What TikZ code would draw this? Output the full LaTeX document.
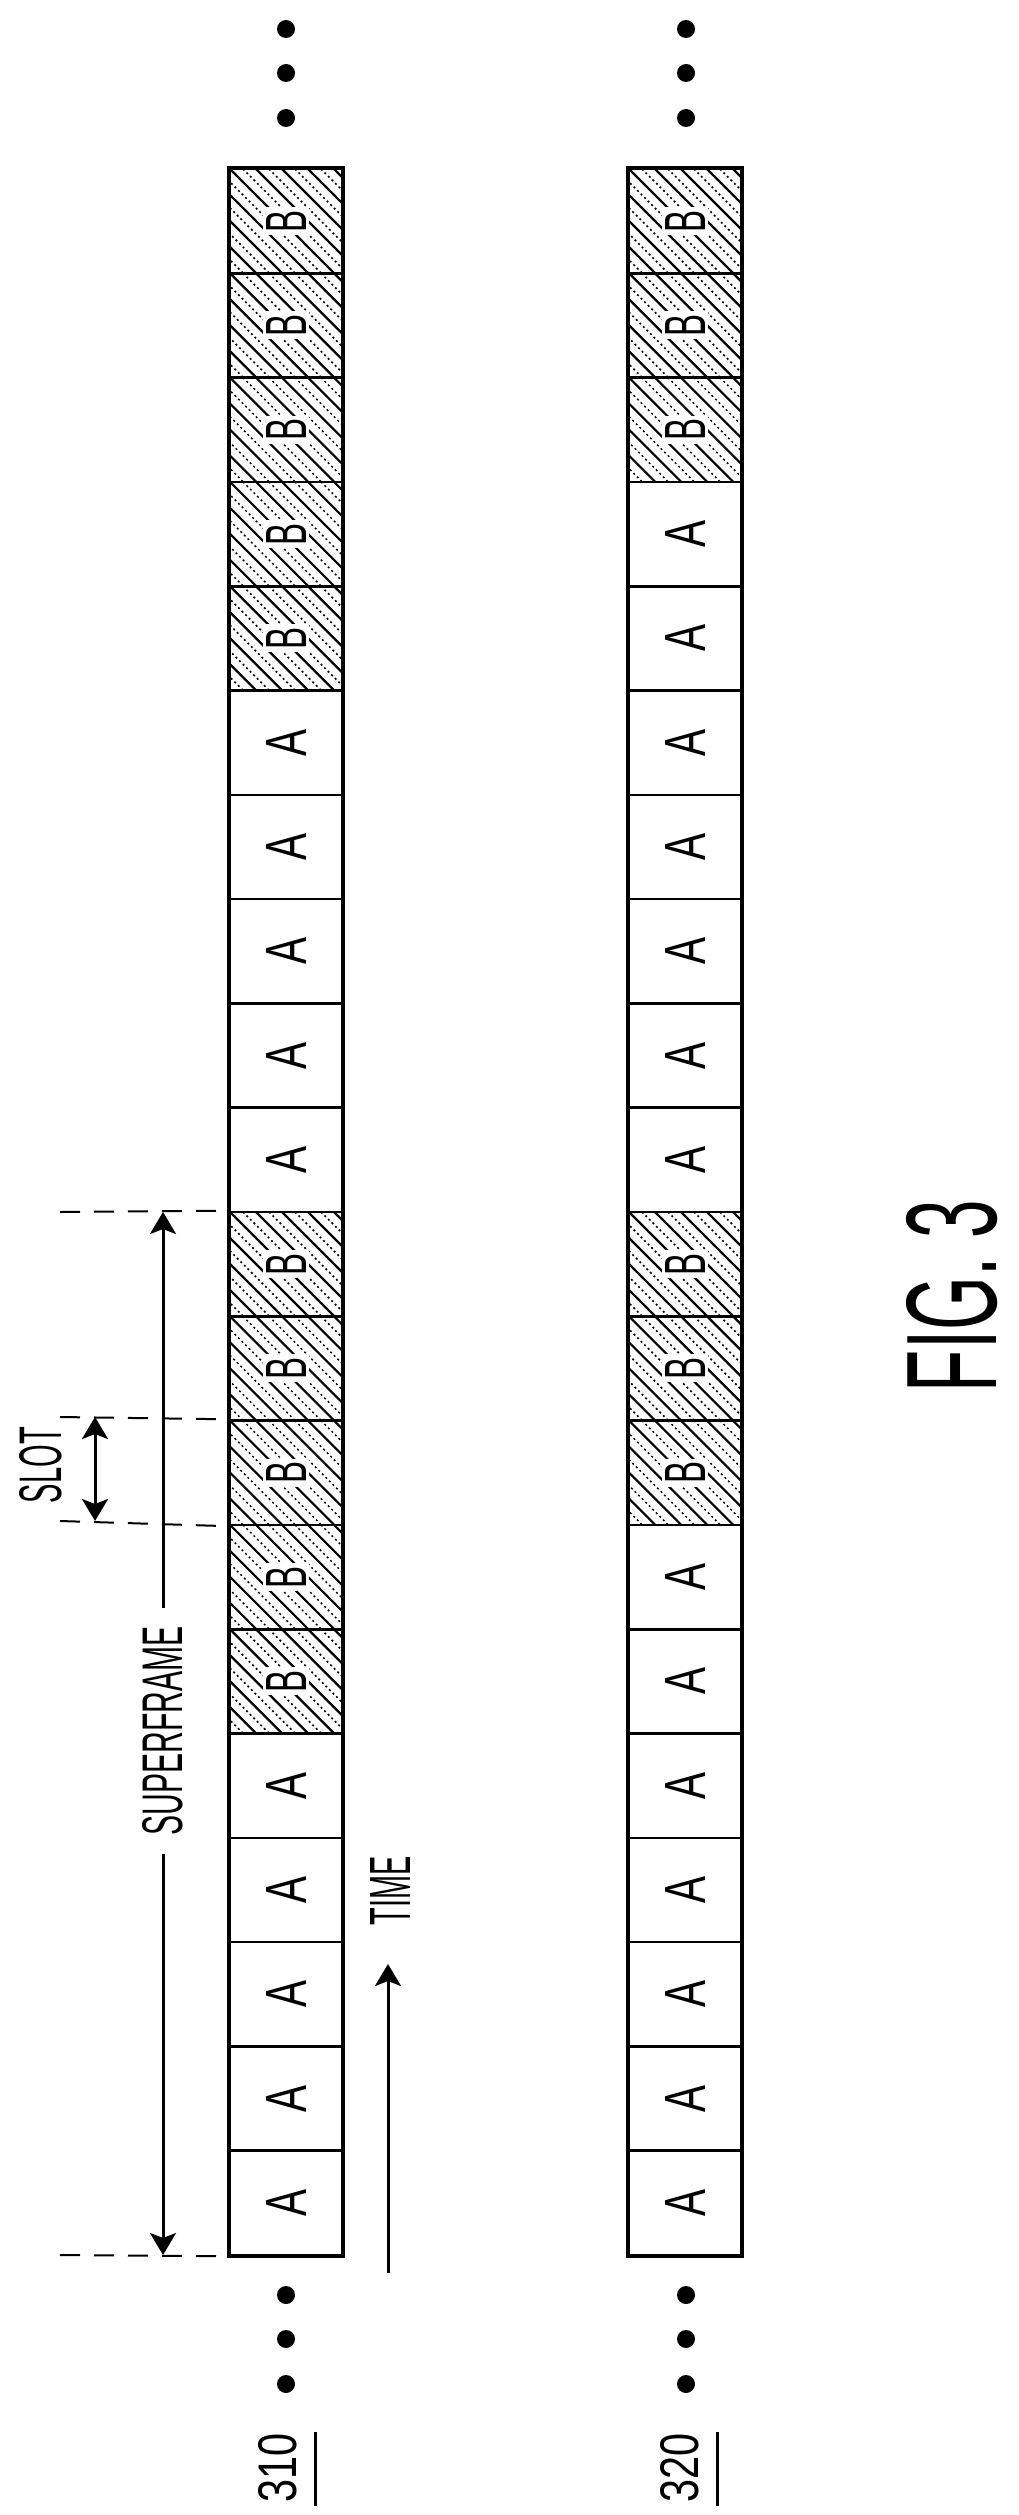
\documentclass[tikz,border=0pt]{standalone}
\usepackage{fontspec}
\setmainfont{Liberation Sans}
\usetikzlibrary{arrows.meta}
\newcommand{\txt}[3]{\resizebox{#1pt}{#2pt}{#3}}
\begin{document}
\begin{tikzpicture}[x=1pt,y=-1pt,
 slot/.style={draw,line width=2.6pt,minimum width=112pt,minimum height=104.3pt,inner sep=0pt},
 lbl/.style={rotate=90,inner sep=0pt},
 blbl/.style={rotate=90,inner sep=3pt,fill=white},
 hs/.style={line width=2.2pt},
 hd/.style={line width=1.5pt,dash pattern=on 2pt off 3pt},
 dim/.style={line width=2pt,dash pattern=on 20pt off 14pt},
 arr/.style={line width=3pt,-{Stealth[length=22pt,width=26pt,inset=5pt]}},
 darr/.style={line width=3pt,{Stealth[length=22pt,width=26pt,inset=5pt]}-{Stealth[length=22pt,width=26pt,inset=5pt]}},
 dot/.style={circle,fill,inner sep=0pt,minimum size=18pt},
 outer/.style={line width=4pt}]
\useasboundingbox (0,0) rectangle (1018,2515);

% column 310
\foreach \i in {0,...,19}{
  \pgfmathsetmacro\ty{169+104.3*\i}
  \pgfmathtruncatemacro\isb{or(\i<5,and(\i>9,\i<15))}
  \ifnum\isb=1
    \begin{scope}
      \clip (230,\ty) rectangle (342,\ty+104.3);
      \foreach \k in {-130,-104,...,112} \draw[hs] (230+\k,\ty) -- ++(110,110);
      \foreach \k in {-117,-91,...,125} \draw[hd] (230+\k,\ty) -- ++(110,110);
    \end{scope}
    \node[slot] (a\i) at (286,\ty+52.15) {};
    \node[blbl] (la\i) at (a\i) {\txt{22}{40}{B}};
  \else
    \node[slot] (a\i) at (286,\ty+52.15) {};
    \node[lbl] (la\i) at (a\i) {\txt{27}{40}{A}};
  \fi
}
% column 320
\foreach \i in {0,...,19}{
  \pgfmathsetmacro\ty{169+104.3*\i}
  \pgfmathtruncatemacro\isb{or(\i<3,and(\i>9,\i<13))}
  \ifnum\isb=1
    \begin{scope}
      \clip (629,\ty) rectangle (741,\ty+104.3);
      \foreach \k in {-130,-104,...,112} \draw[hs] (629+\k,\ty) -- ++(110,110);
      \foreach \k in {-117,-91,...,125} \draw[hd] (629+\k,\ty) -- ++(110,110);
    \end{scope}
    \node[slot] (b\i) at (685,\ty+52.15) {};
    \node[blbl] (lb\i) at (b\i) {\txt{22}{40}{B}};
  \else
    \node[slot] (b\i) at (685,\ty+52.15) {};
    \node[lbl] (lb\i) at (b\i) {\txt{27}{40}{A}};
  \fi
}
\draw[outer] (a0.north west) rectangle (a19.south east);
\draw[outer] (b0.north west) rectangle (b19.south east);

% dots
\foreach \y [count=\n] in {29,73,118}{
  \node[dot] (ta\n) at (286,\y) {};
  \node[dot] (tb\n) at (686,\y) {};
}
\foreach \y [count=\n] in {2295,2339,2384}{
  \node[dot] (ba\n) at (286,\y) {};
  \node[dot] (bb\n) at (686,\y) {};
}

% dimension lines
\coordinate (dl1) at (60,1212);
\coordinate (dl2) at (60,1417);
\coordinate (dl3) at (60,1521);
\coordinate (dl4) at (60,2255);
\draw[dim] (dl1) -- (a10.north west);
\draw[dim] (dl2) -- (a12.north west);
\draw[dim] (dl3) -- (a12.south west);
\draw[dim] (dl4) -- (a19.south west);

% superframe
\node[lbl,inner sep=18pt] (sf) at (163,1731) {\txt{209}{40}{SUPERFRAME}};
\coordinate (sft) at (163,1212);
\coordinate (sfb) at (163,2255);
\draw[arr] (sf) -- (sft);
\draw[arr] (sf) -- (sfb);

% slot
\node[lbl] (slt) at (41,1465) {\txt{76}{42}{SLOT}};
\coordinate (slt1) at (95,1417);
\coordinate (slt2) at (95,1521);
\draw[darr] (slt1) -- (slt2);

% time
\node[lbl] (tm) at (390,1891) {\txt{69}{40}{TIME}};
\coordinate (tm1) at (388,2273);
\coordinate (tm2) at (388,1964);
\draw[arr] (tm1) -- (tm2);

% labels
\node[lbl] (l310) at (278,2468) {\txt{69}{38}{310}};
\coordinate (u1a) at (315,2432);
\coordinate (u1b) at (315,2506);
\draw[line width=3pt] (u1a) -- (u1b);
\node[lbl] (l320) at (680,2468) {\txt{69}{38}{320}};
\coordinate (u2a) at (717,2432);
\coordinate (u2b) at (717,2506);
\draw[line width=3pt] (u2a) -- (u2b);

\node[lbl] (fig) at (952,1296) {\txt{192}{90}{FIG. 3}};
\end{tikzpicture}
\end{document}
